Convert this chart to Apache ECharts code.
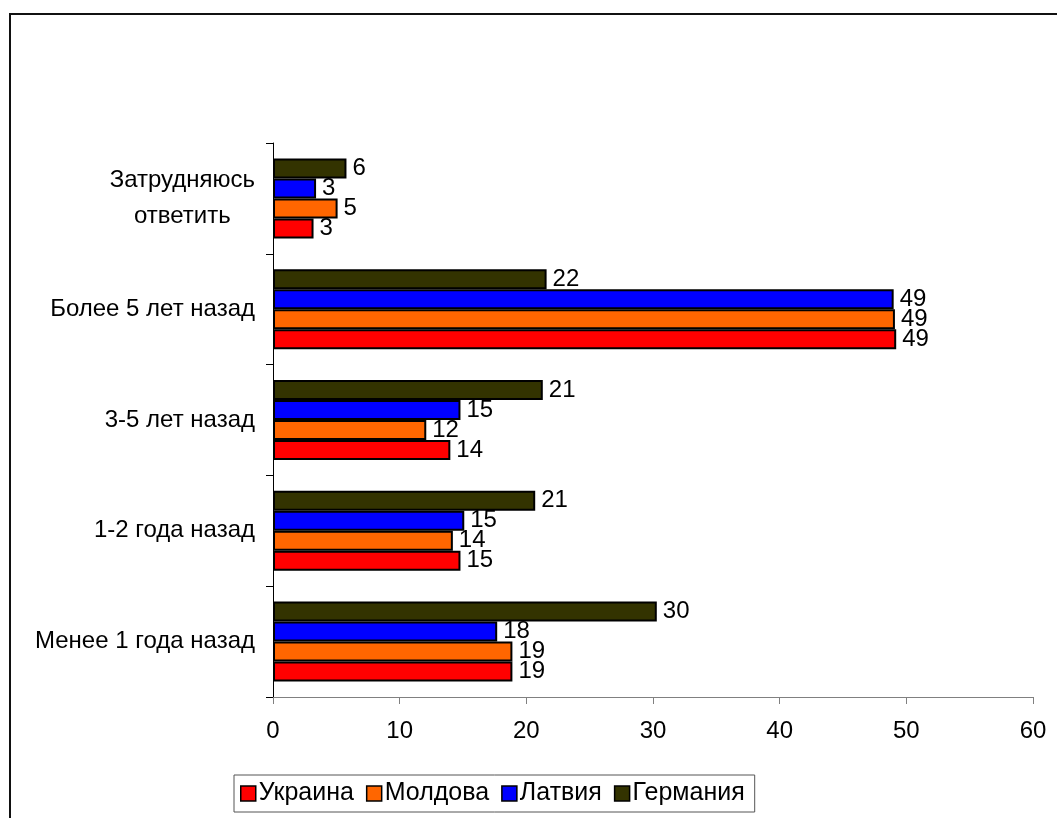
<!DOCTYPE html>
<html>
<head>
<meta charset="utf-8">
<script src="https://cdn.jsdelivr.net/npm/echarts@6/dist/echarts.min.js"></script>
<style>
html,body{margin:0;padding:0;background:#fff;}
#chart{width:1057px;height:818px;}
</style>
</head>
<body>
<div id="chart"></div>
<script>
// Categories, bottom to top
var categories = ['Менее 1 года назад', '1-2 года назад', '3-5 лет назад', 'Более 5 лет назад', 'Затрудняюсь\nответить'];
var seriesNames = ['Украина', 'Молдова', 'Латвия', 'Германия'];
var ukraine = [18.9, 14.8, 14.0, 49.2, 3.2];
var moldova = [18.9, 14.2, 12.1, 49.1, 5.1];
var latvia = [17.7, 15.1, 14.8, 49.0, 3.4];
var germany = [30.3, 20.7, 21.3, 21.6, 5.8];
var xTicks = [0, 10, 20, 30, 40, 50, 60];
var colors = ['#FF0000', '#FF6600', '#0000FF', '#333300'];

var FONT = '"Liberation Sans", Arial, sans-serif';
var dataSets = [ukraine, moldova, latvia, germany];

var chart = echarts.init(document.getElementById('chart'));
// ECharts places the first series at the top of a horizontal group, so add them in reverse
var series = [];
for (var i = seriesNames.length - 1; i >= 0; i--) {
  series.push({
    name: seriesNames[i],
    type: 'bar',
    data: dataSets[i],
    barWidth: 20,
    barGap: '0%',
    itemStyle: { color: colors[i], borderColor: '#000', borderWidth: 2 },
    label: {
      show: true,
      position: 'right',
      distance: 6,
      color: '#000',
      fontFamily: FONT,
      fontSize: 24,
      formatter: function (p) { return Math.round(p.value); }
    },
    animation: false
  });
}

chart.setOption({
  animation: false,
  backgroundColor: '#fff',
  textStyle: { fontFamily: FONT },
  graphic: [{
    type: 'rect',
    shape: { x: 10, y: 14, width: 1200, height: 1000 },
    style: { fill: 'none', stroke: '#111', lineWidth: 2 },
    silent: true
  }],
  grid: { left: 273, right: 24, top: 143, bottom: 121, containLabel: false },
  legend: {
    data: seriesNames,
    left: 234,
    top: 775,
    orient: 'horizontal',
    padding: [6, 10, 6, 6],
    itemGap: 12,
    itemWidth: 15,
    itemHeight: 15,
    icon: 'rect',
    borderColor: '#555',
    borderWidth: 1,
    itemStyle: { borderColor: '#000', borderWidth: 1.5 },
    textStyle: { fontFamily: FONT, fontSize: 25, color: '#000', padding: [0, 0, 0, -2] }
  },
  xAxis: {
    type: 'value',
    min: xTicks[0],
    max: xTicks[xTicks.length - 1],
    interval: 10,
    splitLine: { show: false },
    axisLine: { show: true, lineStyle: { color: '#808080', width: 1 } },
    axisTick: { show: true, length: 7, lineStyle: { color: '#808080' } },
    axisLabel: { color: '#000', fontFamily: FONT, fontSize: 24, margin: 22 }
  },
  yAxis: {
    type: 'category',
    data: categories,
    axisLine: { show: true, lineStyle: { color: '#000', width: 1 } },
    axisTick: { show: true, length: 7, lineStyle: { color: '#000' } },
    axisLabel: {
      color: '#000',
      fontFamily: FONT,
      fontSize: 24,
      margin: 18,
      formatter: function (v) {
        return v.split('\n').map(function (s) { return '{c|' + s + '}'; }).join('\n');
      },
      rich: { c: { align: 'center', fontFamily: FONT, fontSize: 24, lineHeight: 36, color: '#000' } }
    }
  },
  series: series
});
</script>
</body>
</html>
